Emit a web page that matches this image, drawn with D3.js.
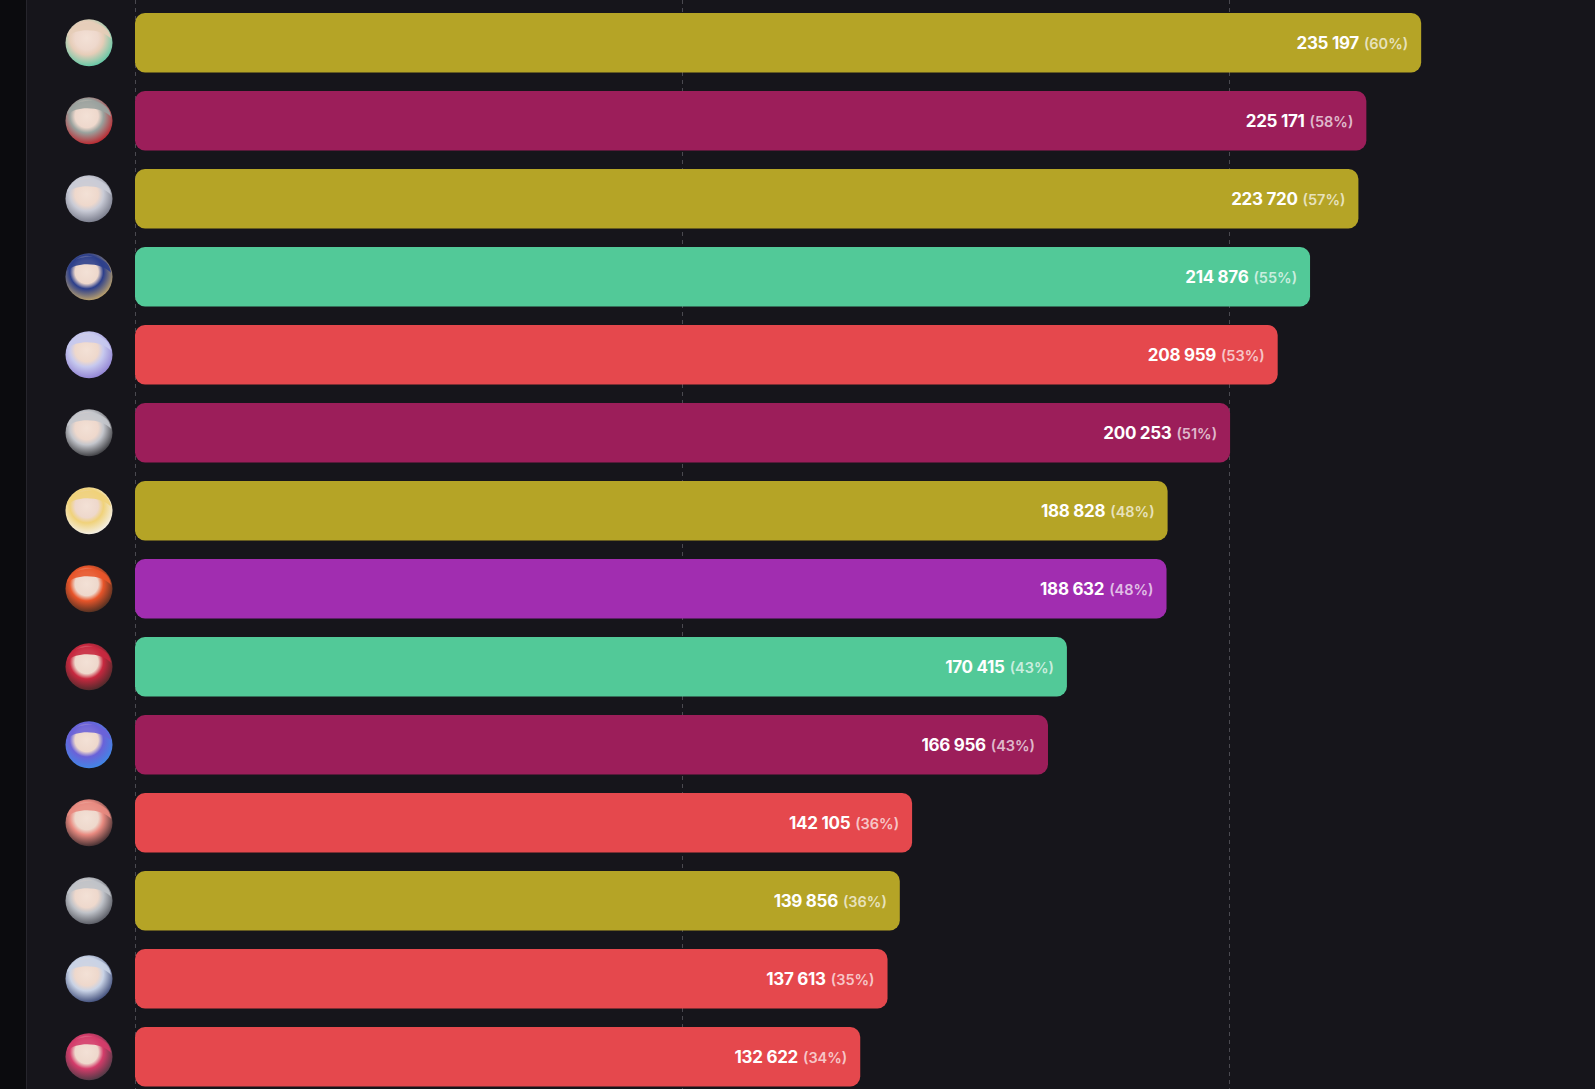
<!DOCTYPE html>
<html>
<head>
<meta charset="utf-8">
<script src="https://cdn.jsdelivr.net/npm/d3@7"></script>
<style>
html,body{margin:0;padding:0;background:#16151b;overflow:hidden;}
svg{display:block;}
</style>
</head>
<body>
<svg id="chart" width="1595" height="1089"></svg>
<script>
const ranks = [1,2,3,4,5,6,7,8,9,10,11,12,13,14];
const values = [235197,225171,223720,214876,208959,200253,188828,188632,170415,166956,142105,139856,137613,132622];
const percents = [60,58,57,55,53,51,48,48,43,43,36,36,35,34];
const elements = ["Spectro","Havoc","Spectro","Aero","Fusion","Havoc","Spectro","Electro","Aero","Havoc","Fusion","Spectro","Fusion","Fusion"];
const hairColors = ["#e6cdb8","#9aa29e","#c9cbd6","#2c3f8c","#c7c9ee","#c4c6cc","#f0d27a","#e8552a","#c8283f","#6a62d8","#e88a80","#bfc2c8","#c9d3e6","#d43c6a"];
const accentColors = ["#4fc7a3","#c0141e","#6d7080","#d4b266","#8a7ad0","#2a2a2e","#f4f4f8","#3a2a20","#3c2a28","#3a8ce8","#2c2226","#4a4c55","#2c3a6a","#3a3a40"];
const gridTicks = [0,100000,200000];

const elementColor = d3.scaleOrdinal()
  .domain(["Spectro","Havoc","Aero","Fusion","Electro"])
  .range(["#b5a426","#9c1e5a","#52c998","#e5484d","#a12db0"]);

const svg = d3.select("#chart");
const W = 1595, H = 1089;

svg.append("rect").attr("width",W).attr("height",H).attr("fill","#16151b");
svg.append("rect").attr("width",26).attr("height",H).attr("fill","#0b0b0e");
svg.append("line").attr("x1",26.5).attr("x2",26.5).attr("y1",0).attr("y2",H)
  .attr("stroke","#26252c").attr("stroke-width",1);

const x = d3.scaleLinear().domain([0,200000]).range([135,1228.7]);
const y = d3.scaleBand().domain(ranks).range([13,1086.5]).paddingInner(0.2372).paddingOuter(0);

// grid
svg.append("g").selectAll("line").data(gridTicks).join("line")
  .attr("x1",d=>Math.round(x(d))+0.5).attr("x2",d=>Math.round(x(d))+0.5)
  .attr("y1",0).attr("y2",H)
  .attr("stroke","#4a4950").attr("stroke-width",1).attr("stroke-dasharray","4,4");

const fmt = v => d3.format(",")(v).replace(/,/g," ");

// avatars
const defs = svg.append("defs");
ranks.forEach((r,i)=>{
  const g = defs.append("radialGradient").attr("id","av"+i).attr("cx","45%").attr("cy","40%").attr("r","65%");
  g.append("stop").attr("offset","0%").attr("stop-color","#f3e1d6");
  g.append("stop").attr("offset","38%").attr("stop-color","#eed8cc");
  g.append("stop").attr("offset","55%").attr("stop-color",hairColors[i]);
  g.append("stop").attr("offset","100%").attr("stop-color",accentColors[i]);
});
const av = svg.append("g").selectAll("g").data(ranks).join("g")
  .attr("transform",(d,i)=>`translate(89,${y(d)+y.bandwidth()/2})`);
av.append("circle").attr("r",23.5).attr("fill",(d,i)=>`url(#av${i})`);
av.append("path")
  .attr("d","M-22,-6 C-20,-24 20,-26 22,-4 C14,-14 -12,-16 -22,-6 Z")
  .attr("fill",(d,i)=>hairColors[i]).attr("opacity",0.9);

// bars
const rows = svg.append("g").selectAll("g").data(ranks).join("g");
rows.append("rect")
  .attr("x",x(0))
  .attr("y",d=>y(d))
  .attr("width",(d,i)=>x(values[i])-x(0))
  .attr("height",y.bandwidth())
  .attr("rx",10).attr("ry",10)
  .attr("fill",(d,i)=>elementColor(elements[i]));

const txt = rows.append("text")
  .attr("x",(d,i)=>x(values[i])-13)
  .attr("y",d=>y(d)+y.bandwidth()/2)
  .attr("dy","0.36em")
  .attr("text-anchor","end")
  .attr("font-family","Inter, 'Noto Sans', sans-serif")
  .attr("fill","#ffffff");
txt.append("tspan").attr("font-size",17).attr("font-weight",700).attr("letter-spacing","-0.3")
  .text((d,i)=>fmt(values[i]));
txt.append("tspan").attr("font-size",14.5).attr("font-weight",600).attr("fill-opacity",0.7)
  .attr("dx",5).text((d,i)=>`(${percents[i]}%)`);
</script>
</body>
</html>
